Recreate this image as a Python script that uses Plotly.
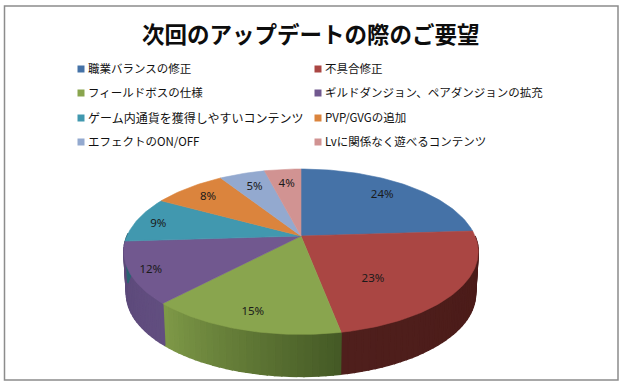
import math
import plotly.graph_objects as go

title = "次回のアップデートの際のご要望"
categories = ["職業バランスの修正", "不具合修正", "フィールドボスの仕様", "ギルドダンジョン、ペアダンジョンの拡充",
              "ゲーム内通貨を獲得しやすいコンテンツ", "PVP/GVGの追加", "エフェクトのON/OFF", "Lvに関係なく遊べるコンテンツ"]
values = [24, 23, 15, 12, 9, 8, 5, 4]
colors = ["#4572a7", "#aa4643", "#89a54e", "#71588f", "#4198af", "#db843d", "#93a9cf", "#d19392"]
side_left = ["#2e4a6e", "#4f1f1c", "#7f9a48", "#5a4878", "#2a6372", "#8f5627", "#60708a", "#885f5f"]
side_right = ["#2e4a6e", "#4a1a18", "#445925", "#624e80", "#2a6372", "#8f5627", "#60708a", "#885f5f"]
label_radius = [0.77, 0.62, 0.84, 0.89, 0.86, 0.80, 0.76, 0.75]
label_shift = [-1, 15, 0, -1, -2, -0.6, 0, 0]
legend_sizes = [11.5, 11.5, 11.5, 11.5, 12, 11.5, 11.5, 11.5]

W, H = 622, 388
CX, CY, A, B, K, DEPTH = 301, 236, 174, 79.7, 0.19, 42
LEG_X = [81, 318]
LEG_Y = [69, 93, 118, 142]


def project(theta_deg, r=1.0, drop=0.0, xscale=1.0):
    t = math.radians(theta_deg)
    u, v = r * math.sin(t), r * math.cos(t)
    w = 1 + K * v
    return CX + xscale * A * u / w, CY - B * v / w + drop


def mix(c1, c2, f):
    a = [int(c1[i:i + 2], 16) for i in (1, 3, 5)]
    b = [int(c2[i:i + 2], 16) for i in (1, 3, 5)]
    return "rgb(%d,%d,%d)" % tuple(round(p + (q - p) * f) for p, q in zip(a, b))


def poly(xs, ys, color, width=0.6):
    return go.Scatter(x=xs, y=ys, mode="lines", fill="toself", fillcolor=color,
                      line=dict(color=color, width=width), hoverinfo="skip", showlegend=False)


total = sum(values)
bounds = [0.0]
for val in values:
    bounds.append(bounds[-1] + val / total * 360)

fig = go.Figure()

# Side wall, clockwise from the right edge round to the left edge
for i, val in enumerate(values):
    lo, hi = max(bounds[i], 90), min(bounds[i + 1], 272)
    if hi <= lo:
        continue
    steps = max(2, int((hi - lo) / 2))
    for s in range(steps):
        a0 = lo + (hi - lo) * s / steps
        a1 = lo + (hi - lo) * (s + 1) / steps
        p0, p1 = project(a0), project(a1)
        q0, q1 = project(a0, drop=DEPTH, xscale=0.985), project(a1, drop=DEPTH, xscale=0.985)
        f = (hi - (a0 + a1) / 2) / (hi - lo)
        col = mix(side_left[i], side_right[i], f)
        fig.add_trace(poly([p0[0], p1[0], q1[0], q0[0], p0[0]], [p0[1], p1[1], q1[1], q0[1], p0[1]], col, width=1.5))

# Top face
for i, val in enumerate(values):
    n = max(3, int(val * 3))
    pts = [project(bounds[i] + (bounds[i + 1] - bounds[i]) * s / n) for s in range(n + 1)]
    xs = [CX] + [p[0] for p in pts] + [CX]
    ys = [CY] + [p[1] for p in pts] + [CY]
    fig.add_trace(poly(xs, ys, colors[i]))

# Percentage labels
lx, ly, lt = [], [], []
for i, val in enumerate(values):
    mid = (bounds[i] + bounds[i + 1]) / 2 + label_shift[i]
    x, y = project(mid, label_radius[i])
    lx.append(x); ly.append(y); lt.append(f"{val}%")
fig.add_trace(go.Scatter(x=lx, y=ly, mode="text", text=lt, textposition="middle center",
                         textfont=dict(family="Noto Sans, sans-serif", size=11.5, color="#1a1a1a"),
                         hoverinfo="skip", showlegend=False))

# Legend
for i, cat in enumerate(categories):
    fig.add_trace(go.Scatter(x=[LEG_X[i % 2]], y=[LEG_Y[i // 2]], mode="markers",
                             marker=dict(symbol="square", size=7, color=colors[i]),
                             hoverinfo="skip", showlegend=False))
    fig.add_trace(go.Scatter(x=[LEG_X[i % 2] + 7], y=[LEG_Y[i // 2] + 1.5], mode="text", text=[cat],
                             textposition="middle right",
                             textfont=dict(family="Noto Sans CJK JP", size=legend_sizes[i], color="#111111"),
                             hoverinfo="skip", showlegend=False))

fig.add_annotation(x=311, y=33, text=f"<b>{title}</b>", showarrow=False, xref="x", yref="y",
                   font=dict(family="Noto Sans CJK JP", size=22.5, color="#0d0d0d"))
fig.add_shape(type="rect", x0=4.5, y0=6, x1=618, y1=380, line=dict(color="#8c8c8c", width=1.5), layer="below")

fig.update_layout(width=W, height=H, margin=dict(l=0, r=0, t=0, b=0), paper_bgcolor="white", plot_bgcolor="white",
                  xaxis=dict(range=[0, W], visible=False), yaxis=dict(range=[H, 0], visible=False),
                  showlegend=False)
fig.write_html("out.html", config={"displayModeBar": False},
               post_script="document.body.style.margin='0';document.body.style.overflow='hidden';")
